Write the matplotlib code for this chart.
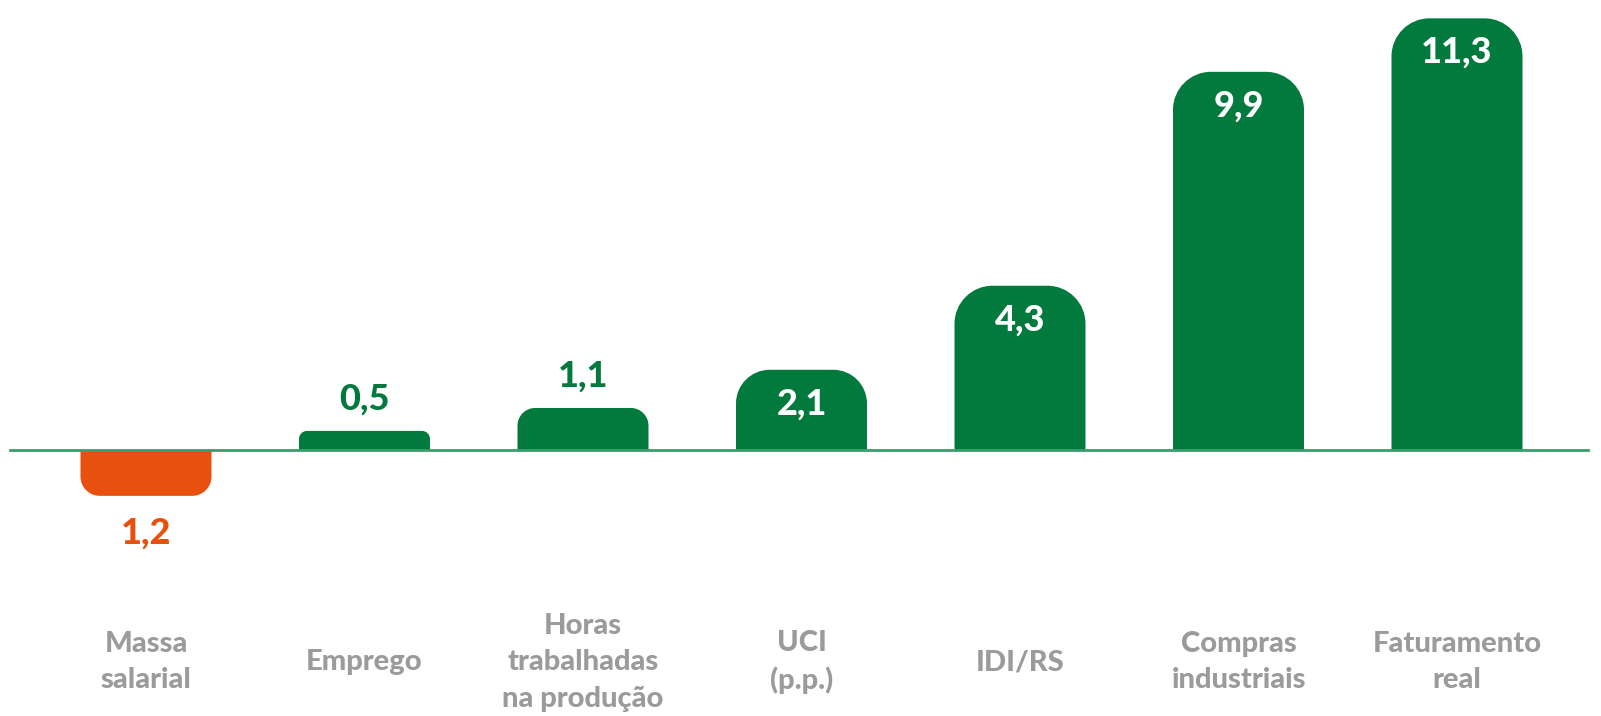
import numpy as np
import matplotlib.pyplot as plt
from matplotlib.path import Path
from matplotlib.patches import PathPatch

categories = ["Massa\nsalarial", "Emprego", "Horas\ntrabalhadas\nna produção",
              "UCI\n(p.p.)", "IDI/RS", "Compras\nindustriais", "Faturamento\nreal"]
values = [-1.2, 0.5, 1.1, 2.1, 4.3, 9.9, 11.3]

GREEN = "#027a3e"
ORANGE = "#e8500e"
GREY = "#9b9b9b"
LINE = "#3a9e6c"

W, H = 1601, 716
px_x = 218.5   # pixels per category step
px_y = 38.2    # pixels per unit
x0_px = 146    # centre of first bar
base_px = 450  # baseline from top

fig = plt.figure(figsize=(W / 100, H / 100), dpi=100)
ax = fig.add_axes([0, 0, 1, 1])
ax.set_xlim(-x0_px / px_x, (W - x0_px) / px_x)
ax.set_ylim(-(H - base_px) / px_y, base_px / px_y)
ax.axis("off")


def rounded_bar(x, h, width, r_px):
    rx = r_px / px_x
    ry = r_px / px_y * np.sign(h)
    k = 0.5523
    l, r = x - width / 2, x + width / 2
    verts = [(l, 0), (l, h - ry),
             (l, h - ry + k * ry), (l + rx - k * rx, h), (l + rx, h),
             (r - rx, h),
             (r - rx + k * rx, h), (r, h - ry + k * ry), (r, h - ry),
             (r, 0), (l, 0)]
    codes = [Path.MOVETO, Path.LINETO,
             Path.CURVE4, Path.CURVE4, Path.CURVE4,
             Path.LINETO,
             Path.CURVE4, Path.CURVE4, Path.CURVE4,
             Path.LINETO, Path.CLOSEPOLY]
    return Path(verts, codes)


font = "Lato"
wt = 900
bw = 131 / px_x
for i, v in enumerate(values):
    hpx = abs(v) * px_y
    r = min(38, 0.42 * hpx)
    color = ORANGE if v < 0 else GREEN
    ax.add_patch(PathPatch(rounded_bar(i, v, bw, r), facecolor=color,
                           edgecolor="none", zorder=2))
    txt = f"{abs(v):.1f}".replace(".", ",")
    if v < 0:
        ax.text(i, v - 37 / px_y, txt, color=ORANGE, ha="center", va="center",
                fontsize=26, fontweight=wt, family=font)
    elif hpx < 60:
        ax.text(i, v + 32 / px_y, txt, color=GREEN, ha="center", va="center",
                fontsize=26, fontweight=wt, family=font)
    else:
        ax.text(i, v - 34 / px_y, txt, color="white", ha="center", va="center",
                fontsize=26, fontweight=wt, family=font, zorder=3)
    ax.text(i, -212 / px_y, categories[i], color=GREY, ha="center", va="center",
            fontsize=21, fontweight=wt, family=font, linespacing=1.5)

ax.plot([(10 - x0_px) / px_x, (1588 - x0_px) / px_x], [0, 0],
        color=LINE, lw=2, zorder=4)

fig.savefig("out.png", dpi=100, facecolor="white")
